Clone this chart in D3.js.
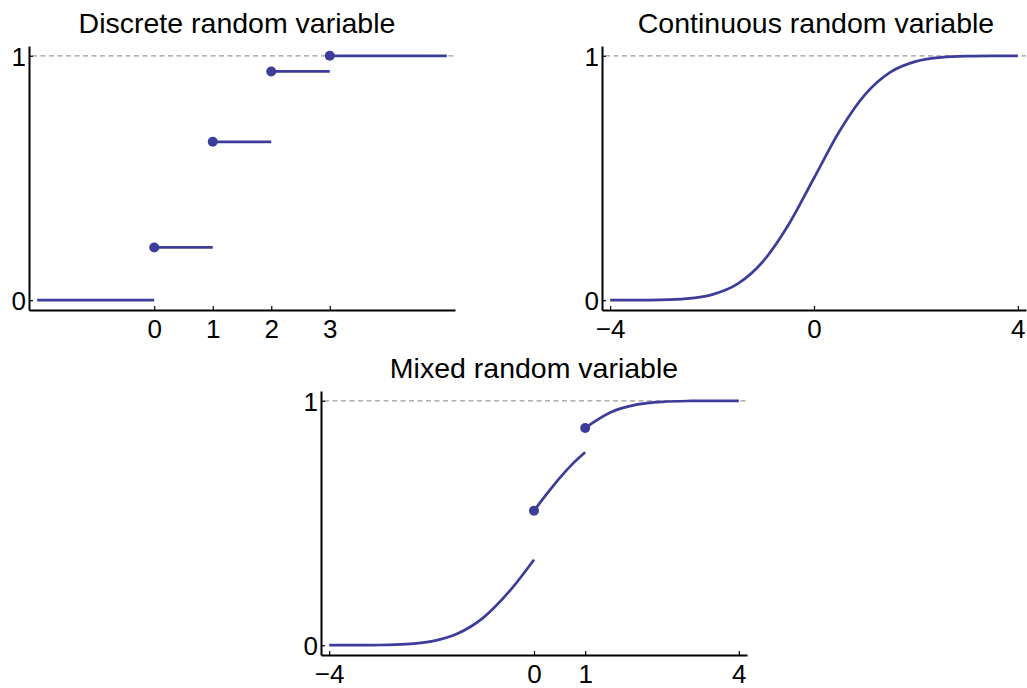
<!DOCTYPE html>
<html>
<head>
<meta charset="utf-8">
<script src="https://cdn.jsdelivr.net/npm/d3@7"></script>
<style>
    body { margin: 0; background: #fff; }
    svg { display: block; font-family: "Liberation Sans", Arial, sans-serif; }
</style>
</head>
<body>
<svg id="chart" width="1027" height="688"></svg>
<script>

// Discrete: step values and where each step starts / ends
var stepStarts = [-2, 0, 1, 2, 3],
    stepEnds = [0, 1, 2, 3, 5],
    stepValues = [0, 0.216, 0.648, 0.936, 1],
    discreteTicks = [0, 1, 2, 3];

// Continuous: CDF
var contX = [-4, -3.5, -3, -2.5, -2, -1.5, -1, -0.5, 0, 0.5, 1, 1.5, 2, 2.5, 3, 3.5, 4],
    contF = [0, 0.0002, 0.0013, 0.0062, 0.0228, 0.0668, 0.1587, 0.3085, 0.5,
             0.6915, 0.8413, 0.9332, 0.9772, 0.9938, 0.9987, 0.9998, 1],
    contTicks = [-4, 0, 4];

// Mixed: three continuous pieces, jumps at 0 and 1
var mixedX1 = [-4, -3.5, -3, -2.5, -2, -1.5, -1, -0.5, 0],
    mixedF1 = [0, 0.0001, 0.0009, 0.0043, 0.016, 0.0468, 0.111, 0.216, 0.35],
    mixedX2 = [0, 0.25, 0.5, 0.75, 1],
    mixedF2 = [0.55, 0.619, 0.684, 0.741, 0.789],
    mixedX3 = [1, 1.5, 2, 2.5, 3, 3.5, 4],
    mixedF3 = [0.889, 0.953, 0.984, 0.9957, 0.9991, 0.9998, 1],
    mixedDotX = [0, 1],
    mixedDotF = [0.55, 0.889],
    mixedTicks = [-4, 0, 1, 4];

var yTicks = [0, 1];

var color = '#3c3c9a';

var svg = d3.select('#chart');

function panel (opts) {

    var x = d3.scaleLinear().domain(opts.xDomain).range(opts.xRange),
        y = d3.scaleLinear().domain([-0.04, 1.04]).range(opts.yRange);

    var g = svg.append('g');

    // reference line at 1
    g.append('line')
        .attr('x1', x.range()[0] + 3)
        .attr('x2', x.range()[1])
        .attr('y1', y(1))
        .attr('y2', y(1))
        .attr('stroke', '#9a9a9a')
        .attr('stroke-width', 1.2)
        .attr('stroke-dasharray', '5,3.5');

    var xAxis = g.append('g')
        .attr('transform', 'translate(0,' + y.range()[0] + ')')
        .call(d3.axisBottom(x)
            .tickValues(opts.xTicks)
            .tickFormat(function (d) { return d < 0 ? '\u2212' + (-d) : d; })
            .tickSizeInner(-4)
            .tickSizeOuter(0)
            .tickPadding(10));

    var yAxis = g.append('g')
        .attr('transform', 'translate(' + x.range()[0] + ',0)')
        .call(d3.axisLeft(y)
            .tickValues(yTicks)
            .tickFormat(d3.format('d'))
            .tickSizeInner(-4)
            .tickSizeOuter(0)
            .tickPadding(3));

    [xAxis, yAxis].forEach(function (a) {
        a.select('.domain').attr('stroke', '#000').attr('stroke-width', 2);
        a.selectAll('.tick line').attr('stroke', '#000').attr('stroke-width', 1.2);
        a.selectAll('.tick text')
            .attr('fill', '#000')
            .style('font-size', '26px')
            .style('font-family', '"Liberation Sans", Arial, sans-serif');
    });

    yAxis.selectAll('.tick text').attr('dy', '0.36em');

    g.append('text')
        .attr('x', (x.range()[0] + x.range()[1]) / 2 + (opts.titleShift || 0))
        .attr('y', opts.titleY)
        .attr('text-anchor', 'middle')
        .attr('word-spacing', opts.wordSpacing || 0)
        .style('font-size', '28.5px')
        .text(opts.title);

    return { g: g, x: x, y: y };

}

function drawCurve (p, xs, fs) {
    var line = d3.line()
        .x(function (d, i) { return p.x(xs[i]); })
        .y(function (d, i) { return p.y(fs[i]); })
        .curve(d3.curveMonotoneX);
    p.g.append('path')
        .attr('d', line(xs))
        .attr('fill', 'none')
        .attr('stroke', color)
        .attr('stroke-width', 2.7);
}

function drawDots (p, xs, fs) {
    p.g.selectAll(null)
        .data(xs)
        .enter()
        .append('circle')
        .attr('cx', function (d) { return p.x(d); })
        .attr('cy', function (d, i) { return p.y(fs[i]); })
        .attr('r', 5)
        .attr('fill', color);
}

// Discrete panel
var p1 = panel({
    xDomain: [-2.14, 5.14], xRange: [29, 455], yRange: [310, 46],
    xTicks: discreteTicks, title: 'Discrete random variable', titleY: 33,
    titleShift: -5
});

p1.g.selectAll(null)
    .data(stepValues)
    .enter()
    .append('line')
    .attr('x1', function (d, i) { return p1.x(stepStarts[i]); })
    .attr('x2', function (d, i) { return p1.x(stepEnds[i]); })
    .attr('y1', function (d) { return p1.y(d); })
    .attr('y2', function (d) { return p1.y(d); })
    .attr('stroke', color)
    .attr('stroke-width', 2.7);

drawDots(p1, stepStarts.slice(1), stepValues.slice(1));

// Continuous panel
var p2 = panel({
    xDomain: [-4.16, 4.16], xRange: [602, 1026], yRange: [310, 46],
    xTicks: contTicks, title: 'Continuous random variable', titleY: 33,
    titleShift: 2
});

drawCurve(p2, contX, contF);

// Mixed panel
var p3 = panel({
    xDomain: [-4.16, 4.16], xRange: [321, 747], yRange: [655, 391],
    xTicks: mixedTicks, title: 'Mixed random variable', titleY: 378
});

drawCurve(p3, mixedX1, mixedF1);
drawCurve(p3, mixedX2, mixedF2);
drawCurve(p3, mixedX3, mixedF3);
drawDots(p3, mixedDotX, mixedDotF);

</script>
</body>
</html>
